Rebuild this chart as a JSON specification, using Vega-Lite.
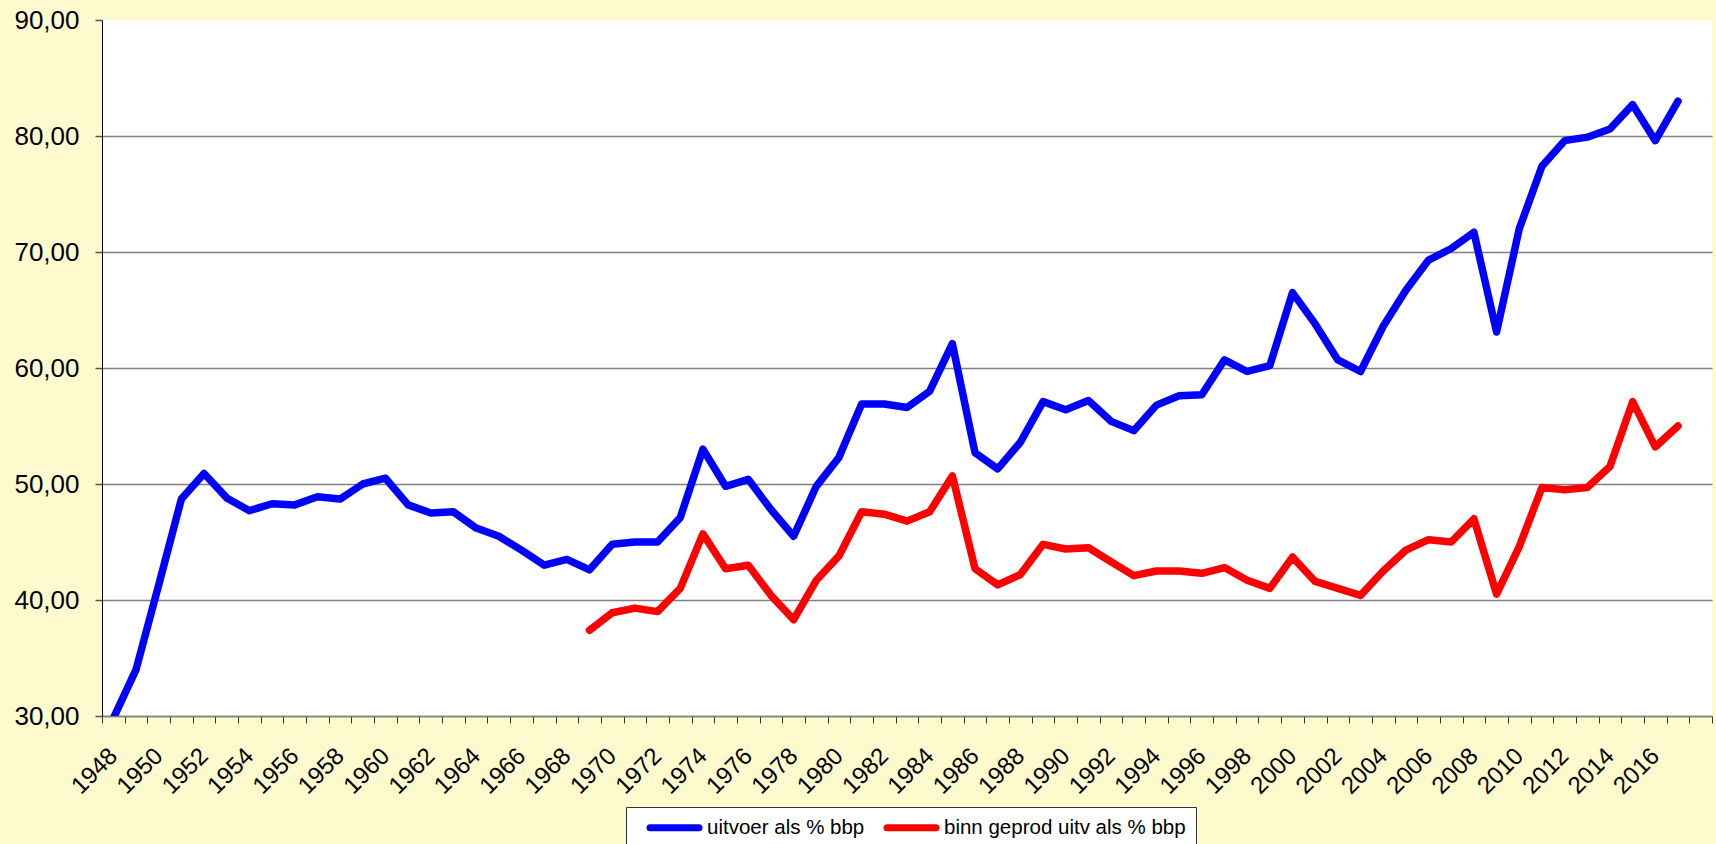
{
  "$schema": "https://vega.github.io/schema/vega-lite/v6.json",
  "width": 1610,
  "height": 696,
  "autosize": {"type": "none"},
  "padding": {"left": 102, "top": 20, "right": 4, "bottom": 128},
  "background": "#FFFACD",
  "config": {"view": {"fill": "white", "stroke": null}, "font": "Liberation Sans"},
  "data": {"values": [
    {"year":1948,"series":"uitvoer als % bbp","value":29.8},{"year":1949,"series":"uitvoer als % bbp","value":34.0},{"year":1950,"series":"uitvoer als % bbp","value":41.3},{"year":1951,"series":"uitvoer als % bbp","value":48.7},{"year":1952,"series":"uitvoer als % bbp","value":50.9},{"year":1953,"series":"uitvoer als % bbp","value":48.8},{"year":1954,"series":"uitvoer als % bbp","value":47.7},{"year":1955,"series":"uitvoer als % bbp","value":48.3},{"year":1956,"series":"uitvoer als % bbp","value":48.2},{"year":1957,"series":"uitvoer als % bbp","value":48.9},{"year":1958,"series":"uitvoer als % bbp","value":48.7},{"year":1959,"series":"uitvoer als % bbp","value":50.0},{"year":1960,"series":"uitvoer als % bbp","value":50.5},{"year":1961,"series":"uitvoer als % bbp","value":48.2},{"year":1962,"series":"uitvoer als % bbp","value":47.5},{"year":1963,"series":"uitvoer als % bbp","value":47.6},{"year":1964,"series":"uitvoer als % bbp","value":46.2},{"year":1965,"series":"uitvoer als % bbp","value":45.5},{"year":1966,"series":"uitvoer als % bbp","value":44.3},{"year":1967,"series":"uitvoer als % bbp","value":43.0},{"year":1968,"series":"uitvoer als % bbp","value":43.5},{"year":1969,"series":"uitvoer als % bbp","value":42.6},{"year":1970,"series":"uitvoer als % bbp","value":44.8},{"year":1971,"series":"uitvoer als % bbp","value":45.0},{"year":1972,"series":"uitvoer als % bbp","value":45.0},{"year":1973,"series":"uitvoer als % bbp","value":47.1},{"year":1974,"series":"uitvoer als % bbp","value":53.0},{"year":1975,"series":"uitvoer als % bbp","value":49.8},{"year":1976,"series":"uitvoer als % bbp","value":50.4},{"year":1977,"series":"uitvoer als % bbp","value":47.8},{"year":1978,"series":"uitvoer als % bbp","value":45.5},{"year":1979,"series":"uitvoer als % bbp","value":49.8},{"year":1980,"series":"uitvoer als % bbp","value":52.3},{"year":1981,"series":"uitvoer als % bbp","value":56.9},{"year":1982,"series":"uitvoer als % bbp","value":56.9},{"year":1983,"series":"uitvoer als % bbp","value":56.6},{"year":1984,"series":"uitvoer als % bbp","value":58.0},{"year":1985,"series":"uitvoer als % bbp","value":62.1},{"year":1986,"series":"uitvoer als % bbp","value":52.7},{"year":1987,"series":"uitvoer als % bbp","value":51.3},{"year":1988,"series":"uitvoer als % bbp","value":53.6},{"year":1989,"series":"uitvoer als % bbp","value":57.1},{"year":1990,"series":"uitvoer als % bbp","value":56.4},{"year":1991,"series":"uitvoer als % bbp","value":57.2},{"year":1992,"series":"uitvoer als % bbp","value":55.4},{"year":1993,"series":"uitvoer als % bbp","value":54.6},{"year":1994,"series":"uitvoer als % bbp","value":56.8},{"year":1995,"series":"uitvoer als % bbp","value":57.6},{"year":1996,"series":"uitvoer als % bbp","value":57.7},{"year":1997,"series":"uitvoer als % bbp","value":60.7},{"year":1998,"series":"uitvoer als % bbp","value":59.7},{"year":1999,"series":"uitvoer als % bbp","value":60.2},{"year":2000,"series":"uitvoer als % bbp","value":66.5},{"year":2001,"series":"uitvoer als % bbp","value":63.8},{"year":2002,"series":"uitvoer als % bbp","value":60.7},{"year":2003,"series":"uitvoer als % bbp","value":59.7},{"year":2004,"series":"uitvoer als % bbp","value":63.6},{"year":2005,"series":"uitvoer als % bbp","value":66.7},{"year":2006,"series":"uitvoer als % bbp","value":69.3},{"year":2007,"series":"uitvoer als % bbp","value":70.3},{"year":2008,"series":"uitvoer als % bbp","value":71.7},{"year":2009,"series":"uitvoer als % bbp","value":63.1},{"year":2010,"series":"uitvoer als % bbp","value":72.0},{"year":2011,"series":"uitvoer als % bbp","value":77.4},{"year":2012,"series":"uitvoer als % bbp","value":79.6},{"year":2013,"series":"uitvoer als % bbp","value":79.9},{"year":2014,"series":"uitvoer als % bbp","value":80.6},{"year":2015,"series":"uitvoer als % bbp","value":82.7},{"year":2016,"series":"uitvoer als % bbp","value":79.6},{"year":2017,"series":"uitvoer als % bbp","value":83.0},
    {"year":1969,"series":"binn geprod uitv als % bbp","value":37.4},{"year":1970,"series":"binn geprod uitv als % bbp","value":38.9},{"year":1971,"series":"binn geprod uitv als % bbp","value":39.3},{"year":1972,"series":"binn geprod uitv als % bbp","value":39.0},{"year":1973,"series":"binn geprod uitv als % bbp","value":41.0},{"year":1974,"series":"binn geprod uitv als % bbp","value":45.7},{"year":1975,"series":"binn geprod uitv als % bbp","value":42.7},{"year":1976,"series":"binn geprod uitv als % bbp","value":43.0},{"year":1977,"series":"binn geprod uitv als % bbp","value":40.4},{"year":1978,"series":"binn geprod uitv als % bbp","value":38.3},{"year":1979,"series":"binn geprod uitv als % bbp","value":41.7},{"year":1980,"series":"binn geprod uitv als % bbp","value":43.8},{"year":1981,"series":"binn geprod uitv als % bbp","value":47.6},{"year":1982,"series":"binn geprod uitv als % bbp","value":47.4},{"year":1983,"series":"binn geprod uitv als % bbp","value":46.8},{"year":1984,"series":"binn geprod uitv als % bbp","value":47.6},{"year":1985,"series":"binn geprod uitv als % bbp","value":50.7},{"year":1986,"series":"binn geprod uitv als % bbp","value":42.7},{"year":1987,"series":"binn geprod uitv als % bbp","value":41.3},{"year":1988,"series":"binn geprod uitv als % bbp","value":42.2},{"year":1989,"series":"binn geprod uitv als % bbp","value":44.8},{"year":1990,"series":"binn geprod uitv als % bbp","value":44.4},{"year":1991,"series":"binn geprod uitv als % bbp","value":44.5},{"year":1992,"series":"binn geprod uitv als % bbp","value":43.3},{"year":1993,"series":"binn geprod uitv als % bbp","value":42.1},{"year":1994,"series":"binn geprod uitv als % bbp","value":42.5},{"year":1995,"series":"binn geprod uitv als % bbp","value":42.5},{"year":1996,"series":"binn geprod uitv als % bbp","value":42.3},{"year":1997,"series":"binn geprod uitv als % bbp","value":42.8},{"year":1998,"series":"binn geprod uitv als % bbp","value":41.7},{"year":1999,"series":"binn geprod uitv als % bbp","value":41.0},{"year":2000,"series":"binn geprod uitv als % bbp","value":43.7},{"year":2001,"series":"binn geprod uitv als % bbp","value":41.6},{"year":2002,"series":"binn geprod uitv als % bbp","value":41.0},{"year":2003,"series":"binn geprod uitv als % bbp","value":40.4},{"year":2004,"series":"binn geprod uitv als % bbp","value":42.5},{"year":2005,"series":"binn geprod uitv als % bbp","value":44.3},{"year":2006,"series":"binn geprod uitv als % bbp","value":45.2},{"year":2007,"series":"binn geprod uitv als % bbp","value":45.0},{"year":2008,"series":"binn geprod uitv als % bbp","value":47.0},{"year":2009,"series":"binn geprod uitv als % bbp","value":40.5},{"year":2010,"series":"binn geprod uitv als % bbp","value":44.6},{"year":2011,"series":"binn geprod uitv als % bbp","value":49.7},{"year":2012,"series":"binn geprod uitv als % bbp","value":49.5},{"year":2013,"series":"binn geprod uitv als % bbp","value":49.7},{"year":2014,"series":"binn geprod uitv als % bbp","value":51.5},{"year":2015,"series":"binn geprod uitv als % bbp","value":57.1},{"year":2016,"series":"binn geprod uitv als % bbp","value":53.2},{"year":2017,"series":"binn geprod uitv als % bbp","value":55.0}
  ]},
  "mark": {"type": "line", "strokeWidth": 7.5, "strokeCap": "round", "strokeJoin": "round", "clip": true},
  "encoding": {
    "x": {
      "field": "year", "type": "ordinal", "bandPosition": 0.5,
      "scale": {"type": "band", "paddingInner": 0, "paddingOuter": 0,
        "domain": [1948,1949,1950,1951,1952,1953,1954,1955,1956,1957,1958,1959,1960,1961,1962,1963,1964,1965,1966,1967,1968,1969,1970,1971,1972,1973,1974,1975,1976,1977,1978,1979,1980,1981,1982,1983,1984,1985,1986,1987,1988,1989,1990,1991,1992,1993,1994,1995,1996,1997,1998,1999,2000,2001,2002,2003,2004,2005,2006,2007,2008,2009,2010,2011,2012,2013,2014,2015,2016,2017,2018]},
      "axis": {
        "title": null, "grid": false, "tickBand": "extent",
        "domainColor": "#808080", "domainWidth": 1.5,
        "tickColor": "#333333", "tickSize": 7, "tickWidth": 1,
        "labelAngle": -45, "labelAlign": "right", "labelBaseline": "middle",
        "labelFontSize": 24, "labelColor": "black", "labelPadding": 29,
        "labelOverlap": false,
        "labelExpr": "datum.value % 2 == 0 && datum.value < 2018 ? datum.label : ''"
      }
    },
    "y": {
      "field": "value", "type": "quantitative",
      "scale": {"domain": [30, 90], "nice": false, "zero": false},
      "axis": {
        "title": null, "values": [30, 40, 50, 60, 70, 80, 90],
        "labelExpr": "replace(format(datum.value, '.2f'), '.', ',')",
        "labelFontSize": 26, "labelColor": "black", "labelPadding": 16,
        "tickSize": 7, "tickColor": "#555555", "tickWidth": 1.5,
        "domainColor": "black", "domainWidth": 1,
        "gridColor": {"condition": {"test": "datum.value == 90", "value": "transparent"}, "value": "#808080"},
        "gridWidth": 1.5, "gridOpacity": 1
      }
    },
    "color": {
      "field": "series", "type": "nominal",
      "scale": {"domain": ["uitvoer als % bbp", "binn geprod uitv als % bbp"], "range": ["#0000FF", "#FF0000"]},
      "legend": {
        "orient": "none", "legendX": 524, "legendY": 787, "direction": "horizontal",
        "title": null, "symbolType": "M-3.5,0H3.5", "symbolSize": 196, "symbolStrokeWidth": 7,
        "labelFontSize": 20.5, "labelColor": "black", "labelLimit": 400, "labelOffset": 22,
        "columnPadding": 8, "padding": 10, "symbolOffset": 28,
        "strokeColor": "#333333", "fillColor": "white",
        "encode": {"symbols": {"update": {"strokeCap": {"value": "round"}}}}
      }
    }
  }
}
